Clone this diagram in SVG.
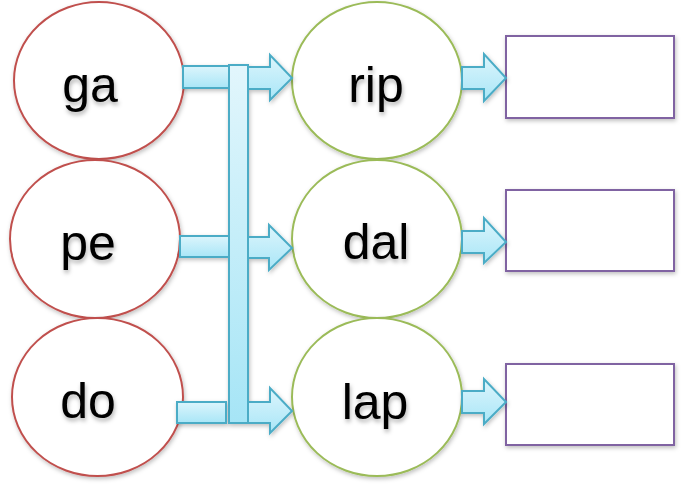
<svg xmlns="http://www.w3.org/2000/svg" width="694" height="488" viewBox="0 0 694 488">
<style>
.red{fill:#fff;stroke:#c0504d;stroke-width:2}
.green{fill:#fff;stroke:#9bbb59;stroke-width:2}
.box{fill:#fff;stroke:#8064a2;stroke-width:2}
.bar{fill:url(#hg);stroke:#4bacc6;stroke-width:2}
.vbar{fill:url(#vg);stroke:#4bacc6;stroke-width:2}
.lbl{font-family:"Liberation Sans",Arial,sans-serif;font-size:50px;fill:#000;text-anchor:middle}
</style>
<defs>
<linearGradient id="hg" x1="0" y1="0" x2="0" y2="1">
<stop offset="0" stop-color="#dcf5fc"/>
<stop offset="1" stop-color="#a9e6f7"/>
</linearGradient>
<linearGradient id="vg" x1="0" y1="0" x2="0" y2="1">
<stop offset="0" stop-color="#e2f6fc"/>
<stop offset="1" stop-color="#a6e5f6"/>
</linearGradient>
<filter id="sh" x="-10%" y="-10%" width="130%" height="130%">
<feDropShadow dx="1" dy="2" stdDeviation="2" flood-color="#000" flood-opacity="0.25"/>
</filter>
<filter id="tsh" x="-20%" y="-20%" width="150%" height="150%">
<feDropShadow dx="1" dy="3" stdDeviation="2" flood-color="#000" flood-opacity="0.3"/>
</filter>
</defs>
<g id="node-ga" filter="url(#sh)"><ellipse class="red" cx="99" cy="80.5" rx="85" ry="78.5"/><text class="lbl" x="90" y="102" filter="url(#tsh)">ga</text></g>
<g id="node-pe" filter="url(#sh)"><ellipse class="red" cx="95" cy="239" rx="85" ry="79"/><text class="lbl" x="88" y="260" filter="url(#tsh)">pe</text></g>
<g id="node-do" filter="url(#sh)"><ellipse class="red" cx="97.5" cy="397" rx="85.5" ry="79"/><text class="lbl" x="88" y="418" filter="url(#tsh)">do</text></g>
<g id="node-rip" filter="url(#sh)"><ellipse class="green" cx="377" cy="80.5" rx="85" ry="78.5"/><text class="lbl" x="376" y="102" filter="url(#tsh)">rip</text></g>
<g id="node-dal" filter="url(#sh)"><ellipse class="green" cx="377" cy="239" rx="85" ry="79"/><text class="lbl" x="376" y="259" filter="url(#tsh)">dal</text></g>
<g id="node-lap" filter="url(#sh)"><ellipse class="green" cx="377" cy="397" rx="85" ry="79"/><text class="lbl" x="375" y="419" filter="url(#tsh)">lap</text></g>
<g id="node-box1" filter="url(#sh)"><rect class="box" x="506" y="36" width="168" height="82"/></g>
<g id="node-box2" filter="url(#sh)"><rect class="box" x="506" y="190" width="168" height="81"/></g>
<g id="node-box3" filter="url(#sh)"><rect class="box" x="506" y="364" width="168" height="81"/></g>
<g id="connectors" filter="url(#sh)">
<rect class="bar" x="183" y="66" width="48" height="22"/>
<rect class="bar" x="180" y="236" width="49" height="21"/>
<rect class="bar" x="177" y="402" width="49" height="21"/>
<rect class="vbar" x="229" y="65" width="19" height="358"/>
<path class="bar" d="M248,67 H270 V55 L292,78 L270,100 V89 H248 Z"/>
<path class="bar" d="M248,237 H269 V225 L292,248 L269,270 V258 H248 Z"/>
<path class="bar" d="M248,402 H270 V388 L292,411 L270,433 V423 H248 Z"/>
<path class="bar" d="M462,67 H484 V54 L506,78 L484,101 V89 H462 Z"/>
<path class="bar" d="M462,231 H484 V218 L506,242 L484,263 V253 H462 Z"/>
<path class="bar" d="M462,391 H484 V379 L506,402 L484,424 V413 H462 Z"/>
</g>
</svg>
